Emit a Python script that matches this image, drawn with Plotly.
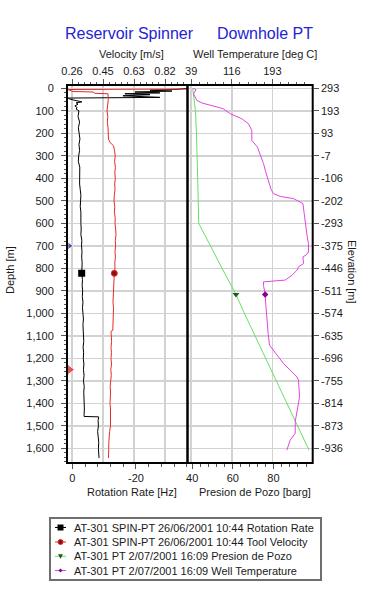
import plotly.graph_objects as go

# ---------------- data ----------------
# Rotation Rate [Hz] (black) vs depth [m]
rot_depth = [0, 4, 8, 12, 16, 20, 24, 28, 33, 40, 43, 48, 52, 56, 60, 64, 70, 78, 85, 92,
             100, 125, 150, 175, 200, 225, 250, 275, 300, 325, 350, 375, 400, 425, 450, 475,
             500, 525, 550, 575, 600, 625, 650, 675, 700, 725, 750, 775, 800, 822, 850, 875,
             900, 925, 950, 975, 1000, 1025, 1050, 1075, 1100, 1125, 1150, 1175, 1200, 1225,
             1250, 1275, 1300, 1325, 1350, 1375, 1400, 1425, 1450, 1458, 1460, 1475, 1500,
             1525, 1550, 1575, 1600, 1625, 1643]
rot_rate = [-36.0, -33.2, -24.4, -31.3, -19.7, -27.5, -16.5, -24.4, -15.9, -27.5, 1.35, 0.7,
            -0.5, -2.4, -3.0, -1.2, -1.8, -0.8, -1.5, -1.2,
            -2.1, -1.8, -2.3, -1.9, -2.2, -2.4, -2.1, -2.3, -2.0, -1.9, -2.35, -2.3, -2.4,
            -2.3, -2.5, -2.7, -2.6, -2.5, -2.7, -2.6, -2.7, -2.8, -2.7, -3.0, -2.9, -3.05,
            -2.95, -3.1, -3.0, -2.95, -3.2, -3.1, -3.25, -3.15, -3.35, -3.2, -3.35, -3.5,
            -3.35, -3.5, -3.45, -3.6, -3.4, -3.55, -3.45, -3.65, -3.5, -3.7, -3.5, -3.75,
            -3.6, -3.7, -3.6, -3.8, -3.7, -3.7, -8.3, -8.1, -8.2, -7.95, -8.15, -8.3, -8.2,
            -8.45, -8.4]
rot_marker_depth = 822

# Tool Velocity [m/s] (red) vs depth [m]
vel_depth = [3, 5, 14, 16, 22, 24, 50, 75, 100, 125, 150, 175, 200, 225, 240, 255, 275, 300,
             325, 350, 375, 400, 425, 450, 475, 500, 525, 550, 575, 600, 625, 650, 675, 700,
             725, 750, 775, 800, 822, 850, 875, 900, 925, 950, 975, 1000, 1025, 1050, 1075,
             1080, 1100, 1125, 1150, 1175, 1200, 1225, 1250, 1275, 1300, 1325, 1350, 1375,
             1400, 1425, 1450, 1475, 1500, 1525, 1550, 1575, 1600, 1625, 1643]
velocity = [0.949, 0.2376, 0.2675, 0.387, 0.399, 0.4767, 0.4785, 0.4737, 0.4707, 0.4755,
            0.4725, 0.4767, 0.4767, 0.4797, 0.4886, 0.5095, 0.5155, 0.5197, 0.5161, 0.5209,
            0.5173, 0.5203, 0.5167, 0.5185, 0.5143, 0.5125, 0.5173, 0.5149, 0.5197, 0.5185,
            0.5221, 0.5245, 0.5203, 0.5221, 0.5185, 0.5209, 0.5173, 0.5185, 0.5143, 0.5125,
            0.5089, 0.5078, 0.5101, 0.5066, 0.5095, 0.5078, 0.5101, 0.5066, 0.5054, 0.4946,
            0.4958, 0.4982, 0.4946, 0.4970, 0.4946, 0.4976, 0.4934, 0.4964, 0.4928, 0.4898,
            0.4922, 0.4886, 0.4886, 0.4916, 0.4904, 0.4934, 0.4916, 0.4862, 0.4826, 0.4815,
            0.4809, 0.4797, 0.4797]
vel_marker_depth = 822

# Presion de Pozo [barg] (green) vs depth [m]
pres_depth = [0, 50, 100, 200, 300, 400, 500, 600, 610, 700, 800, 916, 1000, 1100, 1200,
              1300, 1400, 1500, 1608]
pressure = [40.25, 40.8, 41.6, 42.1, 42.5, 42.85, 43.0, 43.2, 43.8, 49.0, 54.7, 61.55, 65.7,
            70.9, 76.2, 81.4, 86.6, 91.8, 97.5]
pres_marker_depth = 916

# Well Temperature [deg C] (magenta) vs depth [m]
temp_depth = [0, 6, 24, 53, 65, 75, 90, 112, 135, 157, 187, 231, 261, 300, 334, 370, 409, 450,
              468, 480, 490, 512, 557, 600, 631, 660, 690, 727, 740, 749, 779, 793, 808, 830,
              852, 860, 875, 916, 970, 1030, 1090, 1141, 1163, 1223, 1282, 1297, 1371, 1430,
              1482, 1533, 1563, 1608]
temperature = [43.0, 48.1, 43.4, 49.5, 59.5, 74.7, 99.5, 112.8, 135.0, 147.5, 154.0, 154.0,
               164.7, 170.7, 176.1, 180.2, 185.6, 190.7, 195.1, 207.8, 233.1, 251.0, 253.4,
               255.3, 257.2, 259.1, 261.6, 261.6, 257.2, 251.0, 252.1, 242.6, 239.6, 230.6,
               217.3, 176.1, 176.1, 179.3, 180.8, 182.5, 185.0, 187.5, 195.1, 214.1, 239.6,
               242.6, 244.5, 239.6, 236.3, 236.3, 226.8, 220.5]
temp_marker_depth = 916

# zone flags on the depth axis
zone_depths = [700, 1250]
zone_colors = ["#1a1a8c", "#dd1111"]
zone_sizes = [7, 10]

# Elevation axis labels (right) at depth ticks
depth_ticks = list(range(0, 1700, 100))
elevation_labels = ["293", "193", "93", "-7", "-106", "-202", "-293", "-375", "-446", "-511",
                    "-574", "-635", "-696", "-755", "-814", "-873", "-936"]

legend_names = ["AT-301 SPIN-PT 26/06/2001 10:44 Rotation Rate",
                "AT-301 SPIN-PT 26/06/2001 10:44 Tool Velocity",
                "AT-301 PT 2/07/2001 16:09 Presion de Pozo",
                "AT-301 PT 2/07/2001 16:09 Well Temperature"]

# ---------------- styles ----------------
series_colors = ["#000000", "#e62a2a", "#66e060", "#e045e0"]
marker_colors = ["#000000", "#8b1010", "#1d5a1d", "#8b008b"]
marker_symbols = ["square", "circle", "triangle-down", "diamond"]
marker_sizes = [7, 6, 6, 5]

W, H = 370, 605
FONT = "Liberation Sans, Arial, sans-serif"
px = lambda v: v / W
py = lambda v: 1 - v / H
xl0, xm, xr1 = px(67), px(187.5), px(312.7)
yb, yt = py(463), py(85)
GRID = "#d2d2d2"
TICKC = "#555555"
TXT = "#1a1a1a"

fig = go.Figure()

series = [
    (rot_rate, rot_depth, rot_marker_depth, "x"),
    (velocity, vel_depth, vel_marker_depth, "x2"),
    (pressure, pres_depth, pres_marker_depth, "x3"),
    (temperature, temp_depth, temp_marker_depth, "x4"),
]
for i, (xs, ds, mdep, xa) in enumerate(series):
    mk = dict(symbol=marker_symbols[i], size=marker_sizes[i], color=marker_colors[i])
    if i == 1:
        mk["line"] = dict(color=series_colors[1], width=1)
    fig.add_trace(go.Scatter(
        x=xs, y=ds, xaxis=xa, yaxis="y", mode="lines+markers", name=legend_names[i],
        line=dict(color=series_colors[i], width=1), marker=mk,
        selectedpoints=[ds.index(mdep)], unselected=dict(marker=dict(opacity=0)),
        showlegend=False, hoverinfo="skip"))

# invisible carrier so the elevation axis is drawn
fig.add_trace(go.Scatter(x=pressure, y=pres_depth, xaxis="x3", yaxis="y2", mode="lines",
                         line=dict(width=0), opacity=0, showlegend=False, hoverinfo="skip"))

fig.add_trace(go.Scatter(
    x=[0.85] * len(zone_depths), y=zone_depths, xaxis="x", yaxis="y", mode="markers",
    marker=dict(symbol="triangle-right", size=zone_sizes, color=zone_colors),
    showlegend=False, cliponaxis=False, hoverinfo="skip"))

tickfont = dict(family=FONT, size=11, color=TXT)
common = dict(ticks="outside", ticklen=5, tickcolor=TICKC, tickwidth=1, showline=False,
              zeroline=False, tickfont=tickfont, automargin=False)
minor_common = dict(ticks="outside", ticklen=2.5, tickcolor=TICKC, showgrid=False,
                    tickmode="linear")

fig.update_layout(
    width=W, height=H, margin=dict(l=0, r=0, t=0, b=0, autoexpand=False),
    paper_bgcolor="white", plot_bgcolor="white",
    font=dict(family=FONT, size=11, color=TXT), showlegend=False,
    xaxis=dict(domain=[xl0, xm], anchor="y", side="bottom", range=[1.66, -36.17],
               tickmode="array", tickvals=[0, -20], ticktext=["0", "-20"], showgrid=False,
               ticklabelstandoff=0,
               minor=dict(tick0=0, dtick=4, **minor_common), **common),
    xaxis2=dict(overlaying="x", anchor="y", side="top", range=[0.2316, 0.9518],
                tickmode="linear", tick0=0.2615, dtick=0.1853, tickformat=".2f",
                showgrid=True, gridcolor=GRID, gridwidth=1.5, ticklabelstandoff=0,
                minor=dict(tick0=0.2615, dtick=0.03706, **minor_common), **common),
    xaxis3=dict(domain=[xm, xr1], anchor="y", side="bottom", range=[37.69, 99.29],
                tickmode="linear", tick0=40, dtick=20, showgrid=False, ticklabelstandoff=0,
                minor=dict(tick0=40, dtick=4, **minor_common), **common),
    xaxis4=dict(overlaying="x3", anchor="y", side="top", range=[31.97, 269.5],
                tickmode="linear", tick0=39, dtick=77, showgrid=True, gridcolor=GRID,
                gridwidth=1.5, ticklabelstandoff=0,
                minor=dict(tick0=39, dtick=15.4, **minor_common), **common),
    yaxis=dict(domain=[yb, yt], anchor="x", side="left", range=[1665, -15],
               tickmode="linear", tick0=0, dtick=100, tickformat=",",
               showgrid=True, gridcolor=GRID, gridwidth=1.5, ticklabelstandoff=5,
               minor=dict(tick0=0, dtick=20, **minor_common), **common),
    yaxis2=dict(overlaying="y", anchor="x3", side="right", range=[1665, -15],
                tickmode="array", tickvals=depth_ticks, ticktext=elevation_labels,
                showgrid=False, ticklabelstandoff=0, **common),
)

shapes = [
    dict(type="rect", xref="paper", yref="paper", x0=xl0, x1=xr1, y0=yb, y1=yt,
         line=dict(color="black", width=2), layer="above"),
    dict(type="line", xref="paper", yref="paper", x0=xm, x1=xm, y0=yb, y1=yt,
         line=dict(color="black", width=2.5), layer="above"),
    # legend box
    dict(type="rect", xref="paper", yref="paper", x0=px(50), x1=px(321), y0=py(580),
         y1=py(518), line=dict(color="#6e6e6e", width=2), fillcolor="white"),
]

BLUE = "#2424d4"
annos = [
    dict(text="Reservoir Spinner", x=px(129), y=py(33), font=dict(size=16, color=BLUE)),
    dict(text="Downhole PT", x=px(265), y=py(33), font=dict(size=16, color=BLUE)),
    dict(text="Velocity [m/s]", x=px(131), y=py(54)),
    dict(text="Well Temperature [deg C]", x=px(255), y=py(54)),
    dict(text="Rotation Rate [Hz]", x=px(132), y=py(492)),
    dict(text="Presion de Pozo [barg]", x=px(255), y=py(492)),
    dict(text="Depth [m]", x=px(10), y=py(270), textangle=-90),
    dict(text="Elevation [m]", x=px(352), y=py(272), textangle=90),
]

# manual legend rows
row_y = [527.5, 542, 556.3, 570.5]
sym_x0, sym_x1 = 55, 66
cx = (sym_x0 + sym_x1) / 2
for i, name in enumerate(legend_names):
    yy = row_y[i]
    shapes.append(dict(type="line", xref="paper", yref="paper", x0=px(sym_x0), x1=px(sym_x1),
                       y0=py(yy), y1=py(yy), line=dict(color=series_colors[i], width=1)))
    r = marker_sizes[i] / 2 - 0.5
    mc = marker_colors[i]
    if marker_symbols[i] == "square":
        shapes.append(dict(type="rect", xref="paper", yref="paper", x0=px(cx - r),
                           x1=px(cx + r), y0=py(yy + r), y1=py(yy - r), fillcolor=mc,
                           line=dict(width=0)))
    elif marker_symbols[i] == "circle":
        shapes.append(dict(type="circle", xref="paper", yref="paper", x0=px(cx - r),
                           x1=px(cx + r), y0=py(yy + r), y1=py(yy - r), fillcolor=mc,
                           line=dict(color=series_colors[i], width=1)))
    elif marker_symbols[i] == "triangle-down":
        path = "M {} {} L {} {} L {} {} Z".format(px(cx - r), py(yy - r * 0.8), px(cx + r),
                                                  py(yy - r * 0.8), px(cx), py(yy + r))
        shapes.append(dict(type="path", xref="paper", yref="paper", path=path, fillcolor=mc,
                           line=dict(width=0)))
    else:
        path = "M {} {} L {} {} L {} {} L {} {} Z".format(px(cx - r), py(yy), px(cx),
                                                          py(yy - r), px(cx + r), py(yy),
                                                          px(cx), py(yy + r))
        shapes.append(dict(type="path", xref="paper", yref="paper", path=path, fillcolor=mc,
                           line=dict(width=0)))
    annos.append(dict(text=name, x=px(72), y=py(yy), xanchor="left"))

for a in annos:
    a.update(xref="paper", yref="paper", showarrow=False, yanchor="middle")
    a.setdefault("xanchor", "center")
    f = dict(family=FONT, size=11, color=TXT)
    f.update(a.get("font", {}))
    a["font"] = f

fig.update_layout(shapes=shapes, annotations=annos)

fig.write_html("out.html", config={"displayModeBar": False, "staticPlot": True},
               post_script="document.body.style.margin='0';document.body.style.overflow='hidden';")
